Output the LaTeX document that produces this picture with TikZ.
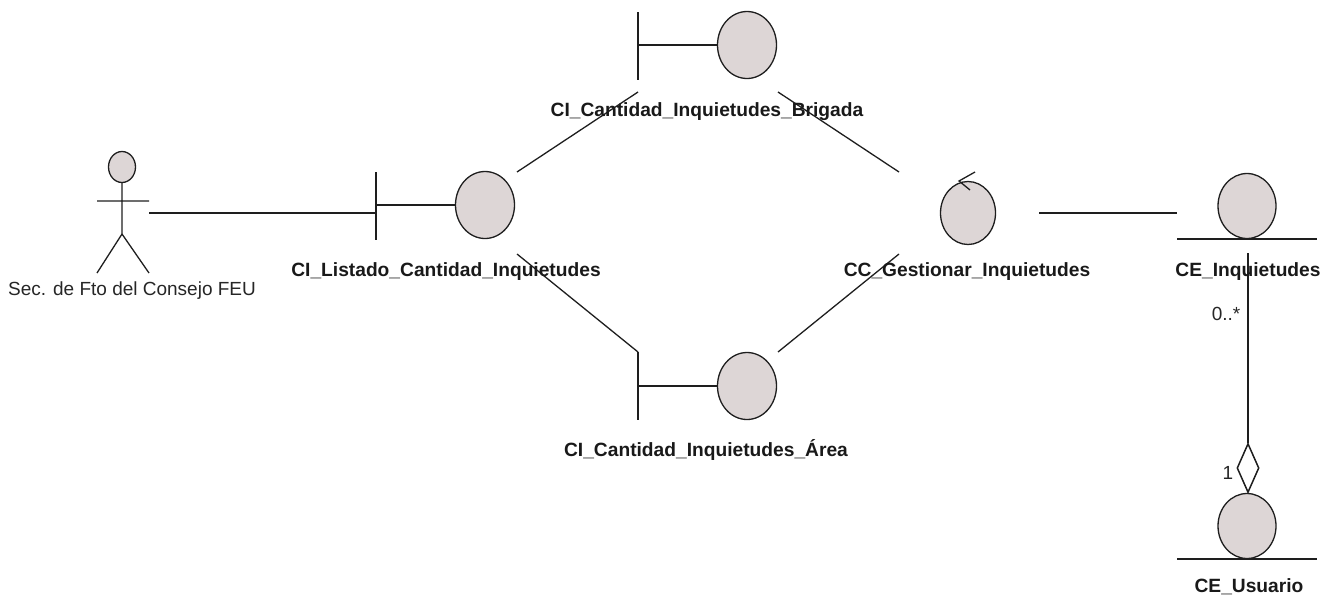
\documentclass[tikz,border=0pt]{standalone}
\usepackage{fontspec}
\setmainfont{Liberation Sans}
\usetikzlibrary{shapes.geometric}
\definecolor{umlfill}{HTML}{DDD6D6}
\definecolor{umlline}{HTML}{1E1E1E}
\tikzset{
  x=1pt,y=-1pt,
  conn/.style={draw=umlline,line width=1.3pt},
  bigball/.style={ellipse,draw=umlline,fill=umlfill,line width=1.3pt,minimum width=59pt,minimum height=67pt,inner sep=0pt},
  ctrlball/.style={bigball,minimum width=55pt,minimum height=63pt},
  ball/.style={bigball,minimum width=58pt,minimum height=65pt},
  headball/.style={bigball,minimum width=27pt,minimum height=31pt},
  boldlabel/.style={font=\bfseries\fontsize{19.2}{22}\selectfont,text=black!90,inner sep=0pt,anchor=base},
  plainlabel/.style={font=\fontsize{19}{22}\selectfont,text=black!85,inner sep=0pt,anchor=base},
  aggr/.style={diamond,draw=umlline,fill=white,line width=1.5pt,aspect=0.45,minimum width=22pt,minimum height=49pt,inner sep=0pt}
}
\begin{document}
\begin{tikzpicture}
\useasboundingbox (0,0) rectangle (1336,603);
% named anchor points
\coordinate (actHand) at (149,213);
\coordinate (bar1top) at (376,172);
\coordinate (bar1bot) at (376,240);
\coordinate (bar1mid) at (376,213);
\coordinate (bar1stem) at (376,205);
\coordinate (bar2top) at (638,12);
\coordinate (bar2bot) at (638,80);
\coordinate (bar2stem) at (638,45);
\coordinate (bar3top) at (638,352);
\coordinate (bar3bot) at (638,420);
\coordinate (bar3stem) at (638,386);
\coordinate (l1a) at (517,172);
\coordinate (l1b) at (638,92);
\coordinate (l2a) at (517,254);
\coordinate (l3a) at (778,92);
\coordinate (l3b) at (899,172);
\coordinate (l4a) at (778,352);
\coordinate (l4b) at (899,254);
\coordinate (l5a) at (1039,213);
\coordinate (l5b) at (1177,213);
\coordinate (aggrTop) at (1248,253);
% actor
\node[headball] (head) at (122,167) {};
\coordinate (hip) at (122,234);
\coordinate (armL) at (97,201);
\coordinate (armR) at (149,201);
\coordinate (legL) at (97,273);
\coordinate (legR) at (149,273);
\draw[conn] (head.south) -- (hip) (armL) -- (armR) (legL) -- (hip) -- (legR);
% boundaries
\node[bigball] (listado) at (485,205) {};
\draw[conn] (bar1top) -- (bar1bot) (bar1stem) -- (listado.west);
\node[bigball] (brigada) at (747,45) {};
\draw[conn] (bar2top) -- (bar2bot) (bar2stem) -- (brigada.west);
\node[bigball] (area) at (747,386) {};
\draw[conn] (bar3top) -- (bar3bot) (bar3stem) -- (area.west);
% control
\node[ctrlball] (gestionar) at (968,213) {};
\coordinate (arrTip) at (959,181);
\coordinate (arrA) at (975,172);
\coordinate (arrB) at (970,190);
\draw[conn] (arrA) -- (arrTip) -- (arrB);
% entities
\node[ball] (inq) at (1247,206) {};
\coordinate (e1l) at (1177,239);
\coordinate (e1r) at (1317,239);
\draw[conn] (e1l) -- (e1r);
\node[ball] (usu) at (1247,526) {};
\coordinate (e2l) at (1177,559);
\coordinate (e2r) at (1317,559);
\draw[conn] (e2l) -- (e2r);
% connectors
\draw[conn] (actHand) -- (bar1mid);
\draw[conn] (l1a) -- (l1b);
\draw[conn] (l2a) -- (bar3top);
\draw[conn] (l3a) -- (l3b);
\draw[conn] (l4a) -- (l4b);
\draw[conn] (l5a) -- (l5b);
\node[aggr] (dia) at (1248,468) {};
\draw[conn] (aggrTop) -- (dia.north);
% labels
\node[plainlabel] (actorlbl) at (132,295) {Sec. de Fto del Consejo FEU};
\node[boldlabel] (lbl1) at (446,276) {CI\_Listado\_Cantidad\_Inquietudes};
\node[boldlabel] (lbl2) at (707,116) {CI\_Cantidad\_Inquietudes\_Brigada};
\node[boldlabel] (lbl3) at (706,456) {CI\_Cantidad\_Inquietudes\_Área};
\node[boldlabel] (lbl4) at (967,276) {CC\_Gestionar\_Inquietudes};
\node[boldlabel] (lbl5) at (1248,276) {CE\_Inquietudes};
\node[boldlabel] (lbl6) at (1249,592) {CE\_Usuario};
\node[plainlabel] (m1) at (1226,320) {0..*};
\node[plainlabel] (m2) at (1228,479) {1};
\end{tikzpicture}
\end{document}
